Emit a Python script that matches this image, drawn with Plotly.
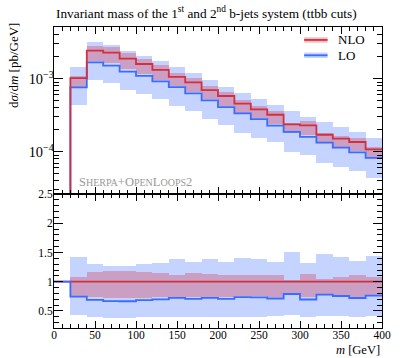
import numpy as np
import plotly.graph_objects as go

# ---- data (bins of 20 GeV from 0 to 400) ----
bin_lo_edges = [0, 20, 40, 60, 80, 100, 120, 140, 160, 180, 200, 220, 240, 260, 280, 300, 320, 340, 360, 380]
bin_width = 20
nlo = [0.0, 1.02e-3, 2.42e-3, 2.27e-3, 1.88e-3, 1.59e-3, 1.32e-3, 1.06e-3, 8.9e-4, 7.0e-4,
       5.8e-4, 4.55e-4, 3.81e-4, 3.21e-4, 2.37e-4, 2.30e-4, 1.71e-4, 1.51e-4, 1.36e-4, 1.08e-4]
lo_ratio = [1.0, 0.745, 0.69, 0.667, 0.665, 0.686, 0.698, 0.724, 0.706, 0.724,
            0.706, 0.735, 0.732, 0.712, 0.789, 0.695, 0.78, 0.755, 0.721, 0.763]
lo_band_hi = [None, 1.419, 1.295, 1.271, 1.266, 1.305, 1.317, 1.38, 1.334, 1.38,
              1.334, 1.40, 1.385, 1.345, 1.503, 1.312, 1.48, 1.43, 1.356, 1.44]
lo_band_lo = [None, 0.424, 0.397, 0.38, 0.375, 0.39, 0.397, 0.40, 0.40, 0.40,
              0.40, 0.40, 0.40, 0.42, 0.424, 0.39, 0.415, 0.41, 0.40, 0.41]
nlo_band_hi = [None, 1.085, 1.157, 1.18, 1.178, 1.16, 1.15, 1.12, 1.145, 1.125,
               1.12, 1.115, 1.11, 1.114, 1.032, 1.13, 1.048, 1.072, 1.122, 1.072]
nlo_band_lo = [None, 0.755, 0.73, 0.72, 0.72, 0.725, 0.73, 0.745, 0.735, 0.745,
               0.74, 0.75, 0.75, 0.74, 0.77, 0.74, 0.765, 0.76, 0.745, 0.765]
series_names = ["NLO", "LO"]

RED = "#d0313d"
BLUE = "#3a6dff"
RED_BAND = "rgba(220,40,55,0.30)"
BLUE_BAND = "rgba(58,110,255,0.30)"
FONT = "Liberation Serif"

edges = np.array(bin_lo_edges, dtype=float)
centers = edges + bin_width / 2
nlo_a = np.array(nlo)
lo_r = np.array(lo_ratio)
lo_a = nlo_a * lo_r

def arr(v):
    return np.array([np.nan if x is None else x for x in v], dtype=float)

lbh, lbl, nbh, nbl = arr(lo_band_hi), arr(lo_band_lo), arr(nlo_band_hi), arr(nlo_band_lo)
valid = ~np.isnan(lbh)

fig = go.Figure()

# ---- upper panel bands ----
fig.add_trace(go.Bar(x=centers[valid], base=(nlo_a * lbl)[valid], y=(nlo_a * (lbh - lbl))[valid],
                     width=bin_width, marker=dict(color=BLUE_BAND, line=dict(width=0)),
                     showlegend=False, xaxis="x", yaxis="y", hoverinfo="skip"))
fig.add_trace(go.Bar(x=centers[valid], base=(nlo_a * nbl)[valid], y=(nlo_a * (nbh - nbl))[valid],
                     width=bin_width, marker=dict(color=RED_BAND, line=dict(width=0)),
                     showlegend=False, xaxis="x", yaxis="y", hoverinfo="skip"))

# ---- upper panel step lines ----
floor = 1e-7
xs = list(edges) + [400]
def steps(v):
    v = [x if x > 0 else floor for x in v]
    return v + [v[-1]]

fig.add_trace(go.Scatter(x=xs, y=steps(list(lo_a)), mode="lines", line=dict(color=BLUE, width=1.8, shape="hv"),
                         name="LO", xaxis="x", yaxis="y", showlegend=False))
fig.add_trace(go.Scatter(x=xs, y=steps(list(nlo_a)), mode="lines", line=dict(color=RED, width=1.8, shape="hv"),
                         name="NLO", xaxis="x", yaxis="y", showlegend=False))

# ---- ratio panel ----
fig.add_trace(go.Bar(x=centers[valid], base=lbl[valid], y=(lbh - lbl)[valid], width=bin_width,
                     marker=dict(color=BLUE_BAND, line=dict(width=0)), showlegend=False,
                     xaxis="x2", yaxis="y2", hoverinfo="skip"))
fig.add_trace(go.Bar(x=centers[valid], base=nbl[valid], y=(nbh - nbl)[valid], width=bin_width,
                     marker=dict(color=RED_BAND, line=dict(width=0)), showlegend=False,
                     xaxis="x2", yaxis="y2", hoverinfo="skip"))
fig.add_trace(go.Scatter(x=xs, y=list(np.ones(len(xs))), mode="lines",
                         line=dict(color=RED, width=1.8, shape="hv"), showlegend=False,
                         xaxis="x2", yaxis="y2"))
fig.add_trace(go.Scatter(x=xs, y=list(lo_r) + [lo_r[-1]], mode="lines",
                         line=dict(color=BLUE, width=1.8, shape="hv"), showlegend=False,
                         xaxis="x2", yaxis="y2"))

tickfont = dict(family=FONT, size=11.5, color="black")
common_x = dict(range=[0, 400], dtick=50, tick0=0, ticks="inside", ticklen=7, tickwidth=1,
                tickcolor="black", showline=True, linecolor="black", linewidth=1, mirror="ticks",
                showgrid=False, zeroline=False,
                minor=dict(ticks="inside", ticklen=4, dtick=10, tick0=0, tickcolor="black", showgrid=False))

fig.update_layout(
    width=402, height=358,
    margin=dict(l=54, r=11, t=27, b=30),
    paper_bgcolor="white", plot_bgcolor="white",
    barmode="overlay", bargap=0,
    font=dict(family=FONT, size=11, color="black"),
    xaxis=dict(**common_x, anchor="y", domain=[0, 1], showticklabels=False, matches="x2"),
    xaxis2=dict(**common_x, anchor="y2", domain=[0, 1], tickfont=tickfont, ticklabelstandoff=-4),
    yaxis=dict(type="log", domain=[0.445, 1], range=[-4.579, -2.292], dtick=1,
               exponentformat="power", showexponent="all",
               ticks="inside", ticklen=9, tickwidth=1, tickcolor="black", tickfont=tickfont,
               ticklabelstandoff=-3,
               showline=True, linecolor="black", linewidth=1, mirror="ticks", showgrid=False, zeroline=False,
               minor=dict(ticks="inside", ticklen=5, dtick="D1", tickcolor="black", showgrid=False)),
    yaxis2=dict(domain=[0, 0.445], range=[0.207, 2.501], tickvals=[0.5, 1, 1.5, 2, 2.5],
                ticktext=["0.5", "1", "1.5", "2", "2.5"],
                ticks="inside", ticklen=9, tickwidth=1, tickcolor="black", tickfont=tickfont,
                ticklabelstandoff=-2,
                showline=True, linecolor="black", linewidth=1, mirror="ticks", showgrid=False, zeroline=False,
                minor=dict(ticks="inside", ticklen=5, dtick=0.1, tick0=0, tickcolor="black", showgrid=False)),
    showlegend=False,
)

# ---- manual legend (sample band + line, then label) ----
leg_x0, leg_x1, leg_tx = 0.7626, 0.834, 0.8605
leg_rows = [(series_names[0], 0.957, RED, RED_BAND), (series_names[1], 0.906, BLUE, BLUE_BAND)]
shapes = []
annotations = []
for name, yy, lc, bc in leg_rows:
    shapes.append(dict(type="rect", xref="paper", yref="paper", x0=leg_x0, x1=leg_x1,
                       y0=yy - 0.009, y1=yy + 0.009, fillcolor=bc, line=dict(width=0)))
    shapes.append(dict(type="line", xref="paper", yref="paper", x0=leg_x0, x1=leg_x1,
                       y0=yy, y1=yy, line=dict(color=lc, width=1.8)))
    annotations.append(dict(text=name, xref="paper", yref="paper", x=leg_tx, y=yy,
                            xanchor="left", yanchor="middle", showarrow=False,
                            font=dict(family=FONT, size=13, color="black")))

annotations += [
    dict(text="Invariant mass of the 1<sup>st</sup> and 2<sup>nd</sup> b-jets system (ttbb cuts)",
         xref="paper", yref="paper", x=0.0, y=1.047, xanchor="left", yanchor="middle",
         showarrow=False, font=dict(family=FONT, size=13.3, color="black")),
    dict(text="d<i>σ</i>/d<i>m</i> [pb/GeV]", xref="paper", yref="paper", x=-0.125, y=1.023,
         xanchor="center", yanchor="top", textangle=-90, showarrow=False,
         font=dict(family=FONT, size=13, color="black")),
    dict(text="<i>m</i> [GeV]", xref="paper", yref="paper", x=1.0, y=-0.072,
         xanchor="right", yanchor="middle", showarrow=False,
         font=dict(family=FONT, size=12.5, color="black")),
    dict(text="S<span style='font-size:10px'>HERPA</span>+O<span style='font-size:10px'>PEN</span>L<span style='font-size:10px'>OOPS</span>2",
         xref="paper", yref="paper", x=0.071, y=0.485, xanchor="left", yanchor="middle",
         showarrow=False, font=dict(family=FONT, size=12.5, color="#999999")),
]
fig.update_layout(annotations=annotations, shapes=shapes)

fig.write_html("out.html")
